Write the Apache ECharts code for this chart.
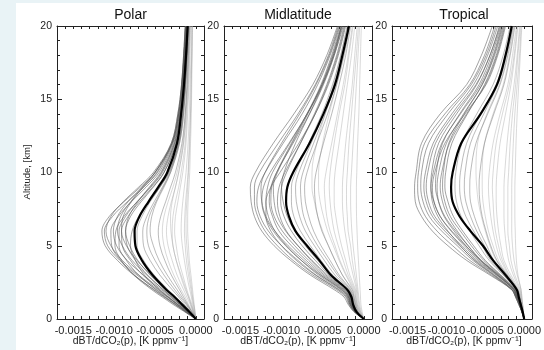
<!DOCTYPE html>
<html><head><meta charset="utf-8">
<script src="https://cdn.jsdelivr.net/npm/echarts@6/dist/echarts.min.js"></script>
<style>html,body{margin:0;padding:0;background:#fff}#c{width:544px;height:350px}</style>
</head><body><div id="c"></div><script>
// Altitude levels (km)
const altitudes = [0,0.5,1,1.5,2,3,4,5,6,7,8,9,10,12,14,16,18,20];
// All Jacobian values below are in units of 1e-4 K ppmv^-1
const panelTitles = ['Polar','Midlatitude','Tropical'];
const xTickLabels = {'-15':'-0.0015','-10':'-0.0010','-5':'-0.0005','0':'0.0000'};
const yTickLabels = {'0':'0','5':'5','10':'10','15':'15','20':'20'};

// ---------- Polar ----------
const polarMean = [0,-0.8,-1.7,-2.6,-3.6,-5.3,-6.6,-7.4,-7.5,-6.9,-5.8,-4.6,-3.5,-2.3,-1.8,-1.45,-1.2,-1.0];
const polarDark = [
  [0,-1.2,-2.5,-3.8,-5.1,-7.6,-9.6,-11.1,-11.5,-10.6,-8.8,-6.8,-5.0,-2.9,-2.1,-1.7,-1.45,-1.25],
  [0,-1.0,-2.2,-3.4,-4.6,-7.0,-9.0,-10.4,-11.0,-10.4,-8.9,-7.0,-5.2,-3.0,-2.2,-1.75,-1.5,-1.3],
  [0,-1.3,-2.6,-3.9,-5.2,-7.5,-9.2,-10.3,-10.4,-9.5,-7.9,-6.1,-4.5,-2.7,-2.0,-1.6,-1.35,-1.15],
  [0,-1.4,-2.8,-4.1,-5.4,-7.6,-9.1,-9.9,-9.8,-8.8,-7.2,-5.5,-4.1,-2.5,-1.9,-1.5,-1.3,-1.1],
  [0,-0.9,-1.9,-2.9,-4.0,-6.0,-7.8,-9.0,-9.6,-9.2,-8.0,-6.4,-4.8,-2.9,-2.1,-1.7,-1.45,-1.25],
  [0,-1.1,-2.2,-3.3,-4.4,-6.5,-8.0,-9.0,-9.1,-8.3,-6.9,-5.3,-3.9,-2.4,-1.8,-1.45,-1.2,-1.05],
  [0,-0.9,-1.9,-2.8,-3.8,-5.6,-7.1,-8.1,-8.6,-8.2,-7.1,-5.7,-4.3,-2.6,-1.9,-1.55,-1.3,-1.1],
  [0,-1.2,-2.3,-3.4,-4.5,-6.3,-7.4,-8.0,-7.8,-7.0,-5.7,-4.4,-3.3,-2.1,-1.6,-1.3,-1.1,-0.95],
  [0,-1.1,-2.3,-3.5,-4.8,-7.2,-9.3,-10.8,-11.2,-10.2,-8.4,-6.4,-4.7,-2.8,-2.0,-1.65,-1.4,-1.2],
  [0,-1.0,-2.0,-3.1,-4.2,-6.4,-8.4,-9.7,-10.1,-9.6,-8.3,-6.6,-5.0,-2.9,-2.1,-1.7,-1.45,-1.25],
  [0,-1.3,-2.5,-3.7,-4.9,-7.0,-8.5,-9.4,-9.4,-8.6,-7.2,-5.6,-4.2,-2.6,-1.9,-1.55,-1.3,-1.1],
  [0,-0.8,-1.7,-2.6,-3.6,-5.5,-7.2,-8.5,-9.1,-8.9,-7.9,-6.5,-5.0,-3.0,-2.2,-1.75,-1.5,-1.3],
  [0,-1.0,-2.0,-3.0,-4.0,-5.9,-7.4,-8.4,-8.6,-8.0,-6.7,-5.2,-3.9,-2.4,-1.8,-1.45,-1.2,-1.05]
];
const polarMedium = [
  [0,-0.7,-1.4,-2.1,-2.9,-4.4,-5.6,-6.4,-6.5,-6.0,-5.1,-4.1,-3.2,-2.1,-1.6,-1.3,-1.1,-0.95],
  [0,-0.5,-1.1,-1.7,-2.3,-3.5,-4.5,-5.2,-5.6,-5.4,-4.8,-3.9,-3.1,-2.0,-1.5,-1.25,-1.05,-0.9],
  [0,-0.5,-1.0,-1.5,-2.0,-3.0,-3.8,-4.4,-4.6,-4.3,-3.7,-3.1,-2.5,-1.7,-1.3,-1.1,-0.95,-0.8],
  [0,-0.8,-1.6,-2.5,-3.4,-5.1,-6.4,-7.2,-7.2,-6.6,-5.6,-4.4,-3.4,-2.2,-1.7,-1.35,-1.15,-0.95],
  [0,-0.6,-1.2,-1.9,-2.6,-3.9,-5.0,-5.8,-6.0,-5.7,-4.9,-4.0,-3.1,-2.0,-1.5,-1.25,-1.05,-0.9]
];
const polarLight = [
  [0,-0.35,-0.7,-1.1,-1.5,-2.3,-2.9,-3.4,-3.6,-3.4,-3.0,-2.5,-2.1,-1.5,-1.2,-1.0,-0.85,-0.75],
  [0,-0.25,-0.5,-0.8,-1.1,-1.6,-2.1,-2.4,-2.6,-2.5,-2.2,-1.9,-1.6,-1.2,-1.0,-0.85,-0.75,-0.65],
  [0,-0.2,-0.4,-0.55,-0.75,-1.1,-1.4,-1.65,-1.8,-1.75,-1.6,-1.4,-1.2,-0.95,-0.8,-0.7,-0.6,-0.55],
  [0,-0.1,-0.2,-0.3,-0.4,-0.6,-0.8,-0.9,-1.0,-1.0,-0.95,-0.85,-0.75,-0.65,-0.55,-0.5,-0.45,-0.4],
  [0,-0.15,-0.3,-0.45,-0.6,-0.9,-1.15,-1.3,-1.4,-1.35,-1.25,-1.1,-0.95,-0.8,-0.65,-0.6,-0.5,-0.45],
  [0,-0.3,-0.6,-0.9,-1.2,-1.8,-2.4,-2.8,-3.05,-3.1,-2.9,-2.5,-2.1,-1.5,-1.2,-1.0,-0.9,-0.8],
  [0,-0.4,-0.9,-1.3,-1.8,-2.7,-3.4,-3.9,-4.1,-3.9,-3.4,-2.8,-2.3,-1.6,-1.3,-1.05,-0.9,-0.8],
  [0,-0.3,-0.6,-0.9,-1.3,-1.9,-2.4,-2.8,-2.9,-2.8,-2.5,-2.1,-1.8,-1.3,-1.1,-0.9,-0.8,-0.7],
  [0,-0.1,-0.25,-0.4,-0.5,-0.75,-0.95,-1.1,-1.2,-1.2,-1.1,-1.0,-0.9,-0.75,-0.65,-0.55,-0.5,-0.45]
];

// ---------- Midlatitude ----------
const midMean = [0,-0.9,-1.3,-1.5,-2.0,-4.0,-5.4,-6.9,-8.3,-9.1,-9.45,-9.3,-8.6,-6.6,-4.9,-3.5,-2.6,-1.8];
const midDark = [
  [0,-1.2,-1.9,-2.4,-3.6,-6.5,-8.9,-10.9,-12.4,-13.3,-13.7,-13.8,-13.2,-11.0,-8.5,-6.2,-4.5,-3.2],
  [0,-1.1,-1.7,-2.0,-3.0,-5.8,-8.0,-10.0,-11.6,-12.6,-13.0,-12.8,-12.0,-9.8,-7.5,-5.6,-4.1,-2.9],
  [0,-1.0,-1.6,-1.9,-2.7,-5.2,-7.3,-9.2,-10.8,-11.9,-12.4,-12.5,-12.0,-10.0,-7.8,-5.8,-4.2,-3.0],
  [0,-1.1,-1.7,-2.1,-3.1,-5.9,-8.2,-10.0,-11.3,-11.9,-11.9,-11.3,-10.2,-7.9,-5.9,-4.3,-3.1,-2.2],
  [0,-1.0,-1.5,-1.8,-2.5,-5.0,-7.0,-8.8,-10.3,-11.1,-11.5,-11.3,-10.6,-8.6,-6.6,-4.9,-3.6,-2.6],
  [0,-0.9,-1.4,-1.6,-2.2,-4.4,-6.3,-8.0,-9.5,-10.5,-10.9,-11.0,-10.5,-8.7,-6.8,-5.1,-3.8,-2.7],
  [0,-1.0,-1.5,-1.7,-2.3,-4.6,-6.4,-8.0,-9.4,-10.2,-10.5,-10.3,-9.6,-7.7,-5.9,-4.4,-3.2,-2.3],
  [0,-0.9,-1.3,-1.5,-2.0,-4.0,-5.6,-7.1,-8.4,-9.3,-9.8,-10.0,-9.7,-8.3,-6.6,-5.0,-3.7,-2.7],
  [0,-1.2,-1.8,-2.2,-3.3,-6.2,-8.6,-10.5,-12.0,-12.9,-13.3,-13.3,-12.7,-10.4,-8.0,-5.9,-4.3,-3.1],
  [0,-1.0,-1.6,-1.8,-2.6,-5.3,-7.6,-9.5,-11.0,-12.0,-12.4,-12.2,-11.4,-9.1,-6.9,-5.0,-3.6,-2.5],
  [0,-1.1,-1.6,-1.9,-2.8,-5.5,-7.6,-9.4,-10.8,-11.6,-11.9,-11.7,-11.1,-9.0,-6.9,-5.1,-3.7,-2.7],
  [0,-0.9,-1.4,-1.7,-2.4,-4.8,-6.7,-8.4,-9.9,-10.9,-11.3,-11.2,-10.6,-8.8,-6.9,-5.2,-3.9,-2.8],
  [0,-1.0,-1.4,-1.6,-2.1,-4.2,-5.9,-7.5,-8.8,-9.7,-10.1,-10.0,-9.4,-7.7,-6.0,-4.5,-3.3,-2.4]
];
const midMedium = [
  [0,-0.8,-1.2,-1.4,-1.8,-3.5,-4.8,-6.0,-7.1,-7.8,-8.2,-8.3,-7.9,-6.4,-4.9,-3.6,-2.6,-1.8],
  [0,-0.8,-1.1,-1.3,-1.6,-3.0,-4.1,-5.2,-6.1,-6.7,-7.1,-7.2,-6.9,-5.7,-4.4,-3.3,-2.4,-1.7],
  [0,-0.7,-1.0,-1.2,-1.4,-2.6,-3.5,-4.3,-5.1,-5.6,-5.9,-6.0,-5.8,-4.9,-3.9,-3.0,-2.2,-1.6],
  [0,-0.9,-1.3,-1.5,-1.9,-3.8,-5.2,-6.5,-7.7,-8.5,-8.8,-8.8,-8.3,-6.7,-5.1,-3.8,-2.8,-2.0],
  [0,-0.8,-1.2,-1.4,-1.7,-3.2,-4.4,-5.6,-6.6,-7.3,-7.6,-7.7,-7.4,-6.1,-4.7,-3.5,-2.5,-1.8]
];
const midLight = [
  [0,-0.6,-0.9,-1.0,-1.2,-2.1,-2.9,-3.5,-4.1,-4.5,-4.7,-4.8,-4.6,-3.9,-3.2,-2.5,-1.9,-1.4],
  [0,-0.5,-0.8,-0.9,-1.0,-1.7,-2.2,-2.7,-3.1,-3.4,-3.6,-3.6,-3.5,-3.0,-2.5,-2.0,-1.5,-1.1],
  [0,-0.4,-0.7,-0.8,-0.9,-1.3,-1.7,-2.0,-2.3,-2.5,-2.6,-2.6,-2.5,-2.2,-1.8,-1.4,-1.1,-0.8],
  [0,-0.3,-0.5,-0.6,-0.7,-0.9,-1.1,-1.3,-1.45,-1.55,-1.6,-1.6,-1.5,-1.3,-1.1,-0.9,-0.7,-0.5],
  [0,-0.6,-0.9,-1.1,-1.3,-2.2,-3.0,-3.7,-4.4,-4.9,-5.3,-5.5,-5.5,-5.0,-4.2,-3.3,-2.5,-1.9],
  [0,-0.2,-0.35,-0.4,-0.45,-0.55,-0.65,-0.75,-0.82,-0.88,-0.9,-0.9,-0.85,-0.75,-0.6,-0.5,-0.4,-0.3],
  [0,-0.5,-0.8,-1.0,-1.1,-1.9,-2.5,-3.1,-3.6,-3.9,-4.1,-4.2,-4.1,-3.6,-3.0,-2.3,-1.8,-1.3],
  [0,-0.4,-0.6,-0.7,-0.8,-1.1,-1.4,-1.6,-1.9,-2.0,-2.1,-2.1,-2.0,-1.8,-1.5,-1.2,-0.9,-0.65],
  [0,-0.7,-1.0,-1.2,-1.5,-2.6,-3.5,-4.3,-5.0,-5.6,-6.0,-6.3,-6.3,-5.7,-4.7,-3.7,-2.8,-2.0]
];

// ---------- Tropical ----------
const tropMean = [0,-0.2,-0.45,-0.7,-0.95,-2.4,-4.0,-5.3,-6.9,-8.3,-9.2,-9.4,-9.2,-8.1,-5.6,-3.5,-2.4,-1.6];
const tropDark = [
  [0,-0.3,-0.7,-1.1,-1.6,-4.4,-7.4,-9.8,-11.8,-13.2,-14.0,-14.1,-13.9,-13.2,-10.8,-7.4,-5.5,-4.1],
  [0,-0.3,-0.7,-1.1,-1.6,-4.0,-6.6,-8.6,-10.6,-12.2,-13.0,-13.3,-13.2,-12.3,-9.8,-6.8,-4.9,-3.6],
  [0,-0.3,-0.6,-1.0,-1.4,-3.6,-6.1,-8.0,-9.9,-11.5,-12.3,-12.6,-12.4,-11.4,-9.0,-6.2,-4.4,-3.2],
  [0,-0.3,-0.6,-1.0,-1.5,-3.9,-6.4,-8.2,-9.8,-11.1,-11.8,-12.0,-11.7,-10.6,-8.2,-5.6,-4.0,-2.9],
  [0,-0.2,-0.5,-0.8,-1.2,-3.2,-5.5,-7.2,-8.8,-10.2,-11.0,-11.4,-11.3,-10.5,-8.3,-5.8,-4.2,-3.0],
  [0,-0.3,-0.6,-0.9,-1.3,-3.4,-5.6,-7.2,-8.6,-9.8,-10.5,-10.8,-10.6,-9.6,-7.4,-5.0,-3.5,-2.5],
  [0,-0.2,-0.5,-0.8,-1.1,-3.0,-5.0,-6.5,-7.9,-9.1,-9.8,-10.2,-10.1,-9.3,-7.3,-5.1,-3.6,-2.6],
  [0,-0.2,-0.5,-0.9,-1.3,-3.3,-5.6,-7.5,-9.3,-10.8,-11.6,-11.8,-11.5,-10.2,-7.6,-4.9,-3.4,-2.4],
  [0,-0.3,-0.7,-1.1,-1.6,-4.2,-7.0,-9.2,-11.2,-12.7,-13.5,-13.7,-13.6,-12.8,-10.2,-7.0,-5.1,-3.8],
  [0,-0.3,-0.6,-1.0,-1.5,-3.8,-6.3,-8.3,-10.2,-11.8,-12.6,-12.9,-12.7,-11.7,-9.3,-6.5,-4.7,-3.4],
  [0,-0.2,-0.5,-0.9,-1.3,-3.5,-5.9,-7.7,-9.4,-10.8,-11.6,-12.0,-11.9,-11.0,-8.7,-6.1,-4.4,-3.1],
  [0,-0.3,-0.6,-0.9,-1.3,-3.4,-5.7,-7.5,-9.0,-10.3,-11.0,-11.2,-11.0,-10.0,-7.8,-5.4,-3.8,-2.7],
  [0,-0.2,-0.5,-0.8,-1.2,-3.1,-5.2,-6.8,-8.2,-9.5,-10.2,-10.5,-10.4,-9.7,-7.7,-5.4,-3.9,-2.8]
];
const tropMedium = [
  [0,-0.2,-0.4,-0.7,-1.0,-2.6,-4.3,-5.4,-6.5,-7.5,-8.1,-8.3,-8.2,-7.4,-5.6,-3.6,-2.4,-1.6],
  [0,-0.2,-0.4,-0.6,-0.9,-2.4,-3.9,-4.8,-5.7,-6.4,-6.9,-7.0,-6.9,-6.2,-4.7,-3.1,-2.1,-1.4],
  [0,-0.2,-0.4,-0.6,-0.9,-2.2,-3.5,-4.3,-4.9,-5.4,-5.7,-5.8,-5.7,-5.1,-3.9,-2.6,-1.8,-1.2],
  [0,-0.2,-0.5,-0.7,-1.0,-2.7,-4.5,-5.8,-7.0,-8.1,-8.7,-8.9,-8.8,-8.0,-6.1,-4.0,-2.7,-1.8],
  [0,-0.2,-0.4,-0.7,-0.9,-2.5,-4.1,-5.1,-6.1,-6.9,-7.5,-7.7,-7.6,-6.9,-5.2,-3.4,-2.3,-1.5]
];
const tropLight = [
  [0,-0.2,-0.4,-0.6,-0.8,-2.0,-3.0,-3.6,-4.0,-4.3,-4.5,-4.6,-4.5,-4.0,-3.1,-2.1,-1.5,-1.0],
  [0,-0.2,-0.3,-0.5,-0.7,-1.7,-2.6,-3.0,-3.3,-3.5,-3.6,-3.6,-3.5,-3.1,-2.4,-1.7,-1.2,-0.8],
  [0,-0.1,-0.3,-0.4,-0.6,-1.4,-2.0,-2.3,-2.5,-2.6,-2.6,-2.6,-2.5,-2.2,-1.8,-1.3,-0.9,-0.6],
  [0,-0.1,-0.2,-0.3,-0.4,-0.9,-1.3,-1.5,-1.6,-1.6,-1.6,-1.6,-1.55,-1.4,-1.2,-0.9,-0.6,-0.4],
  [0,-0.2,-0.4,-0.6,-0.9,-2.2,-3.6,-4.4,-5.0,-5.5,-5.9,-6.1,-6.2,-6.0,-4.8,-3.2,-2.2,-1.5],
  [0,-0.1,-0.2,-0.3,-0.4,-0.8,-1.0,-1.1,-1.15,-1.2,-1.2,-1.2,-1.15,-1.05,-0.9,-0.7,-0.5,-0.3],
  [0,-0.2,-0.4,-0.5,-0.8,-1.9,-2.8,-3.3,-3.7,-3.9,-4.0,-4.1,-4.0,-3.6,-2.8,-1.9,-1.3,-0.9],
  [0,-0.1,-0.2,-0.4,-0.5,-1.2,-1.7,-1.9,-2.1,-2.1,-2.1,-2.1,-2.0,-1.8,-1.5,-1.1,-0.8,-0.5],
  [0,-0.2,-0.4,-0.6,-0.8,-2.1,-3.3,-4.0,-4.6,-5.0,-5.3,-5.4,-5.4,-5.1,-4.0,-2.7,-1.9,-1.3]
];

const panels = [
  {mean: polarMean, dark: polarDark, medium: polarMedium, light: polarLight},
  {mean: midMean, dark: midDark, medium: midMedium, light: midLight},
  {mean: tropMean, dark: tropDark, medium: tropMedium, light: tropLight}
];

const gridBoxes = [
  {left: 57, top: 26, width: 147, height: 293},
  {left: 224, top: 26, width: 148, height: 293},
  {left: 392, top: 26, width: 144, height: 293}
];

const FONT = 'Liberation Sans, Arial, Helvetica, sans-serif';
const AXC = '#222';

const grid = [], xAxis = [], yAxis = [], series = [];
gridBoxes.forEach((g, i) => {
  grid.push(Object.assign({containLabel: false}, g));
  xAxis.push({
    type: 'value', gridIndex: i, position: 'bottom', min: -17, max: 1, interval: 1,
    axisLine: {show: true, onZero: false, lineStyle: {color: AXC, width: 1}},
    axisTick: {show: true, inside: true, length: 3, lineStyle: {color: AXC}},
    axisLabel: {show: true, margin: 6, fontSize: 11, fontFamily: FONT, color: '#222',
      formatter: v => {
        const r = Math.round(v);
        return (Math.abs(v - r) < 1e-6 && xTickLabels[String(r)] !== undefined) ? xTickLabels[String(r)] : '';
      }},
    splitLine: {show: false}
  });
  xAxis.push({
    type: 'value', gridIndex: i, position: 'top', min: -17, max: 1, interval: 1,
    axisLine: {show: true, onZero: false, lineStyle: {color: AXC, width: 1}},
    axisTick: {show: true, inside: true, length: 3, lineStyle: {color: AXC}},
    axisLabel: {show: false}, splitLine: {show: false}
  });
  yAxis.push({
    type: 'value', gridIndex: i, position: 'left', min: 0, max: 20, interval: 5,
    axisLine: {show: true, onZero: false, lineStyle: {color: AXC, width: 1}},
    axisTick: {show: true, inside: true, length: 5, lineStyle: {color: AXC}},
    minorTick: {show: true, splitNumber: 5, length: 3, lineStyle: {color: AXC}},
    axisLabel: {show: true, margin: 5, fontSize: 10.5, fontFamily: FONT, color: '#222',
      formatter: v => yTickLabels[String(v)] || ''},
    splitLine: {show: false}, minorSplitLine: {show: false}
  });
  yAxis.push({
    type: 'value', gridIndex: i, position: 'right', min: 0, max: 20, interval: 5,
    axisLine: {show: true, onZero: false, lineStyle: {color: AXC, width: 1}},
    axisTick: {show: true, inside: true, length: 5, lineStyle: {color: AXC}},
    minorTick: {show: true, splitNumber: 5, length: 3, lineStyle: {color: AXC}},
    axisLabel: {show: false}, splitLine: {show: false}, minorSplitLine: {show: false}
  });
});

function addLine(vals, gi, color, width, z) {
  series.push({
    type: 'line', xAxisIndex: gi * 2, yAxisIndex: gi * 2,
    data: vals.map((v, k) => [v, altitudes[k]]),
    showSymbol: false, symbol: 'none', smooth: 0.35, silent: true, animation: false,
    lineStyle: {color: color, width: width}, z: z
  });
}

panels.forEach((p, gi) => {
  p.light.forEach(c => addLine(c, gi, 'rgba(160,160,160,0.4)', 1, 2));
  p.medium.forEach(c => addLine(c, gi, 'rgba(120,120,120,0.5)', 1, 3));
  p.dark.forEach(c => addLine(c, gi, 'rgba(85,85,85,0.55)', 1, 4));
  addLine(p.mean, gi, '#000', 2.2, 10);
});

const graphics = [
  {type: 'rect', shape: {x: 0, y: 0, width: 16, height: 350}, style: {fill: '#e9f3f6'}, silent: true},
  {type: 'rect', shape: {x: 0, y: 0, width: 544, height: 3}, style: {fill: '#e9f3f6'}, silent: true},
  {type: 'text', x: 27, y: 172, rotation: Math.PI / 2,
    style: {text: 'Altitude, [km]', font: '9.5px ' + FONT, fill: '#222', textAlign: 'center', textVerticalAlign: 'middle'}}
];
gridBoxes.forEach((g, i) => {
  const cx = g.left + g.width / 2;
  graphics.push({type: 'text', x: cx, y: 15,
    style: {text: panelTitles[i], font: '14px ' + FONT, fill: '#111', textAlign: 'center', textVerticalAlign: 'middle'}});
  graphics.push({type: 'text', x: cx, y: 341,
    style: {text: 'dBT/dCO\u2082(p), [K ppmv\u207B\u00B9]', font: '10.5px ' + FONT, fill: '#222', textAlign: 'center', textVerticalAlign: 'middle'}});
});

const chart = echarts.init(document.getElementById('c'), null, {renderer: 'canvas'});
chart.setOption({
  backgroundColor: '#fff',
  animation: false,
  grid: grid, xAxis: xAxis, yAxis: yAxis, series: series,
  graphic: graphics
});
</script></body></html>
